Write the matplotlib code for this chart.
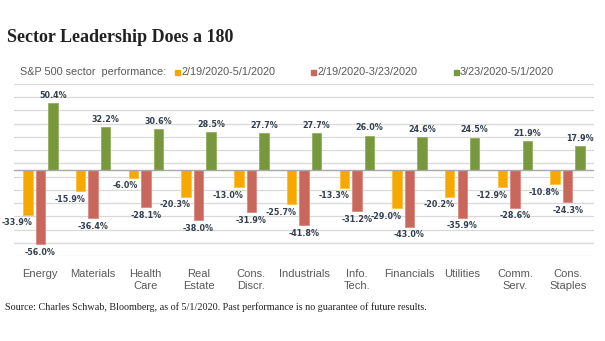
import numpy as np
import matplotlib.pyplot as plt

sectors = ["Energy", "Materials", "Health\nCare", "Real\nEstate", "Cons.\nDiscr.",
           "Industrials", "Info.\nTech.", "Financials", "Utilities", "Comm.\nServ.",
           "Cons.\nStaples"]
full_period = [-33.9, -15.9, -6.0, -20.3, -13.0, -25.7, -13.3, -29.0, -20.2, -12.9, -10.8]
selloff = [-56.0, -36.4, -28.1, -38.0, -31.9, -41.8, -31.2, -43.0, -35.9, -28.6, -24.3]
rebound = [50.4, 32.2, 30.6, 28.5, 27.7, 27.7, 26.0, 24.6, 24.5, 21.9, 17.9]
periods = ["2/19/2020-5/1/2020", "2/19/2020-3/23/2020", "3/23/2020-5/1/2020"]

colors = ["#F7A800", "#C9675C", "#77983D"]
edges = ["#FBC040", "#D98A80", "#93B05E"]
txt_gray = "#595959"
lbl_col = "#333F4F"

fig = plt.figure(figsize=(6.05, 3.41), dpi=100)
fig.patch.set_facecolor("white")
ax = fig.add_axes([0.023, 0.249, 0.959, 0.505])

x = np.arange(len(sectors))
w = 0.18
off = 0.237
series = [full_period, selloff, rebound]
for k, vals in enumerate(series):
    xs = x + (k - 1) * off
    ax.bar(xs, vals, width=w, color=colors[k], edgecolor=edges[k], linewidth=0.6, zorder=3)
    for xi, v in zip(xs, vals):
        s = f"{v:.1f}%"
        if v >= 0:
            ax.annotate(s, (xi, v), xytext=(0, 2.5), textcoords="offset points",
                        ha="center", va="bottom", fontsize=5.8, fontweight="bold",
                        color=lbl_col)
        elif k == 0:
            ax.annotate(s, (xi + w / 2, v), xytext=(0, -2.5), textcoords="offset points",
                        ha="right", va="top", fontsize=5.8, fontweight="bold",
                        color=lbl_col)
        else:
            ax.annotate(s, (xi, v), xytext=(0, -2.5), textcoords="offset points",
                        ha="center", va="top", fontsize=5.8, fontweight="bold",
                        color=lbl_col)

ax.set_ylim(-65, 65)
ax.set_xlim(-0.5, len(sectors) - 0.5)
ax.set_yticks(np.arange(-65, 66, 10))
ax.yaxis.grid(True, color="#D9D9D9", linewidth=0.9, zorder=0)
ax.axhline(0, color="#A6A6A6", linewidth=1.0, zorder=4)
ax.tick_params(axis="y", left=False, labelleft=False)
ax.tick_params(axis="x", bottom=False, pad=6)
ax.set_xticks(x)
ax.set_xticklabels(sectors, fontsize=8, color=txt_gray, family="Liberation Sans",
                   linespacing=1.25, va="top")
for sp in ax.spines.values():
    sp.set_visible(False)

# header, legend row and source line
fig.text(7 / 605, 1 - 37 / 341, "Sector Leadership Does a 180", fontsize=13,
         fontweight="bold", family="Liberation Serif", color="#222222", va="center")
fig.text(20 / 605, 1 - 72 / 341, "S&P 500 sector  performance:", fontsize=7.8,
         family="Liberation Sans", color=txt_gray, va="center")
leg_x = [175, 311, 454]
for lx, c, lab in zip(leg_x, colors, periods):
    fig.patches.append(plt.Rectangle((lx / 605, 1 - 75 / 341), 5 / 605, 5 / 341,
                                     transform=fig.transFigure, color=c))
    fig.text((lx + 6) / 605, 1 - 72 / 341, lab, fontsize=7.8, family="Liberation Sans",
             color=txt_gray, va="center")
fig.text(5 / 605, 1 - 307 / 341,
         "Source: Charles Schwab, Bloomberg, as of 5/1/2020. Past performance is no guarantee of future results.",
         fontsize=7.25, family="Liberation Serif", color="#222222", va="center")

fig.savefig("out.png", dpi=100, facecolor="white")
